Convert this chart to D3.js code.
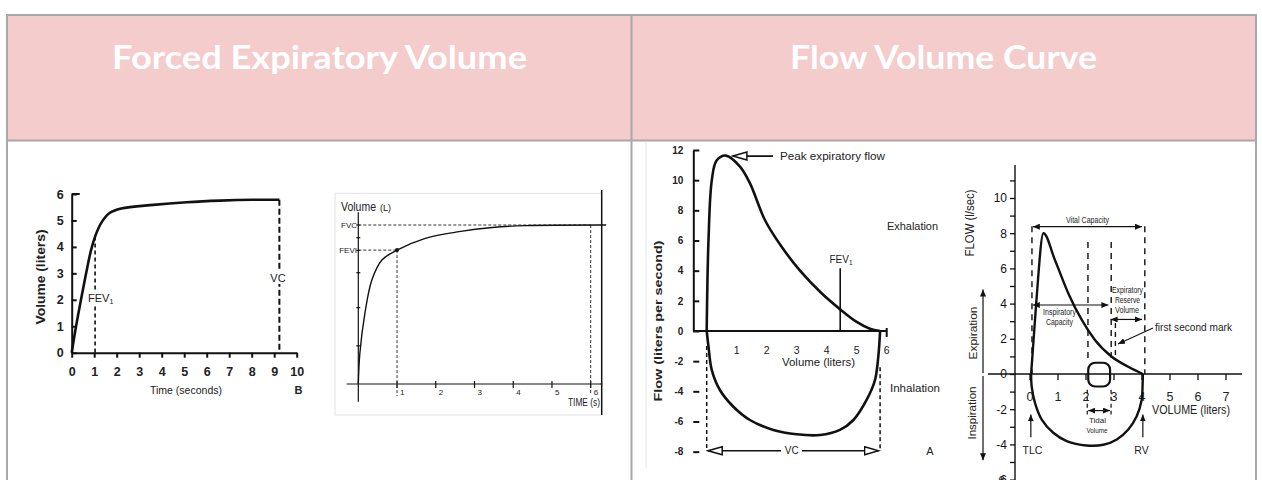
<!DOCTYPE html>
<html><head><meta charset="utf-8">
<script src="https://cdn.jsdelivr.net/npm/d3@7"></script>
<style>
html,body{margin:0;padding:0;background:#fff;}
svg{display:block;}
</style></head><body>
<svg id="c" width="1262" height="480"></svg>
<script>
// ================= DATA =================
const headers = ["Forced Expiratory Volume", "Flow Volume Curve"];

// Panel B : volume-time spirogram
const fevTime = [0, 0.19, 0.41, 0.64, 0.86, 1.04, 1.3, 1.67, 2.2, 3.63, 5.11, 6.59, 8.07, 9.23];
const fevVol  = [0, 0.98, 1.99, 3.0, 3.88, 4.39, 4.89, 5.27, 5.45, 5.59, 5.69, 5.75, 5.78, 5.78];
const fevXTicks = [0,1,2,3,4,5,6,7,8,9,10];
const fevYTicks = [0,1,2,3,4,5,6];
const fevMarks = {fev1Time: 1.04, fev1Vol: 4.39, vcTime: 9.23, vcVol: 5.78};

// Panel 2 : Volume (L) vs TIME (s)
const spTime = [0, 0.04, 0.17, 0.35, 0.61, 1, 1.73, 2.6, 3.46, 4.33, 6.4];
const spVol  = [0, 0.96, 2.22, 3.27, 3.9, 4.21, 4.58, 4.79, 4.92, 4.98, 5.0];
const spXTicks = [1,2,3,4,5,6];
const spYTicks = [1.2, 2.4, 3.5, 4.2, 4.6, 5.0];
const spMarks = {fvc: 5.0, fev1: 4.21, fev1Time: 1, endTime: 6};

// Panel A : flow-volume loop
const fvExpVol  = [0, 0.06, 0.17, 0.33, 0.64, 1.11, 1.44, 1.94, 2.44, 3.11, 3.83, 4.44, 5.0, 5.44, 5.78];
const fvExpFlow = [0, 6.03, 10.0, 11.3, 11.63, 10.9, 9.8, 7.36, 5.75, 4.0, 2.5, 1.45, 0.6, 0.15, 0];
const fvInsVol  = [0, 0.06, 0.17, 0.44, 0.89, 1.44, 2.22, 3.0, 3.78, 4.44, 4.89, 5.33, 5.61, 5.72, 5.78];
const fvInsFlow = [0, -1.04, -2.59, -3.91, -5.02, -5.9, -6.56, -6.85, -6.9, -6.56, -5.9, -4.57, -3.25, -1.7, 0];
const fvYTicks = [-8,-6,-4,-2,0,2,4,6,8,10,12];
const fvXTicks = [1,2,3,4,5,6];
const fvMarks = {peakVol: 0.64, peakFlow: 11.63, fev1Vol: 4.45, fev1Top: 4.16, vc: 5.78, vcFlow: -7.94};

// Panel 4 : flow-volume loop with lung volumes
const lvExpVol  = [0.04, 0.22, 0.48, 0.89, 1.37, 1.85, 2.32, 2.92, 3.51, 4.03];
const lvExpFlow = [0, 4.0, 8.0, 6.48, 4.58, 3.07, 1.93, 0.98, 0.41, 0];
const lvInsVol  = [0.04, 0.06, 0.18, 0.42, 0.83, 1.31, 2.02, 2.62, 3.1, 3.51, 3.81, 3.99, 4.02, 4.03];
const lvInsFlow = [0, -0.71, -1.65, -2.59, -3.34, -3.81, -4.06, -4.02, -3.72, -3.15, -2.4, -1.46, -0.71, 0];
const lvYTicks = [-6,-5,-4,-3,-2,-1,0,1,2,3,4,5,6,7,8,9,10,11];
const lvXTicks = [0,1,2,3,4,5,6,7];
const lvTidal = {v0: 2.08, v1: 2.86, fTop: 0.64, fBot: -0.71};
const lvDashV = [[0.07, 8.4, 0], [2.07, 7.5, 0.64], [2.9, 7.5, 0.64], [4.1, 8.4, 0]];
const lvMarks = {vcFlow: 8.37, icFlow: 3.92, icEnd: 2.8, ervFlow: 3.1, ervStart: 2.88, ervEnd: 4.0,
                 tidalFlow: -2.08, fsmVol: 3.05, tlc: 0.03, rv: 4.03};

// ================= DRAW =================
const svg = d3.select("#c");
const COND = "'Liberation Sans Narrow','Liberation Sans',Arial,sans-serif";
const SANS = "'Liberation Sans',Arial,sans-serif";
const zip = (a,b) => a.map((v,i)=>[v,b[i]]);
const plain = d => String(d);

function txt(g, x, y, s, o={}) {
  const t = g.append("text").attr("x", x).attr("y", y)
    .attr("font-family", o.family || COND)
    .attr("font-size", o.size || 11)
    .attr("font-weight", o.weight || "normal")
    .attr("fill", o.fill || "#222")
    .attr("text-anchor", o.anchor || "start");
  if (o.rotate) t.attr("transform", `rotate(${o.rotate},${x},${y})`);
  if (o.len) t.attr("textLength", o.len).attr("lengthAdjust", "spacingAndGlyphs");
  if (o.sub) {
    t.append("tspan").text(s);
    t.append("tspan").text(o.sub).attr("font-size", (o.size||11)*0.65).attr("dy", 2);
  } else t.text(s);
  return t;
}
function ln(g, x1, y1, x2, y2, o={}) {
  const l = g.append("line").attr("x1",x1).attr("y1",y1).attr("x2",x2).attr("y2",y2)
    .attr("stroke", o.stroke || "#111").attr("stroke-width", o.w || 1.5);
  if (o.dash) l.attr("stroke-dasharray", o.dash);
  if (o.ms) l.attr("marker-start", `url(#${o.ms})`);
  if (o.me) l.attr("marker-end", `url(#${o.me})`);
  return l;
}
function bg(g, x, y, w, h) {
  g.append("rect").attr("x",x).attr("y",y).attr("width",w).attr("height",h).attr("fill","#fff");
}

// markers
const defs = svg.append("defs");
defs.append("marker").attr("id","open").attr("markerUnits","userSpaceOnUse")
  .attr("markerWidth",17).attr("markerHeight",11).attr("refX",15).attr("refY",5)
  .attr("orient","auto-start-reverse")
  .append("path").attr("d","M1,1 L15,5 L1,9 Z").attr("fill","#fff").attr("stroke","#111").attr("stroke-width",1.5);
defs.append("marker").attr("id","fill").attr("markerUnits","userSpaceOnUse")
  .attr("markerWidth",8).attr("markerHeight",6).attr("refX",7).attr("refY",3)
  .attr("orient","auto-start-reverse")
  .append("path").attr("d","M0,0 L7,3 L0,6 Z").attr("fill","#111");

// ---- table ----
const BORDER = "#a8a8a8";
svg.append("rect").attr("x",7).attr("y",15).attr("width",1249).attr("height",125).attr("fill","#f4cccc");
[[6,15,1257,15],[6,140.5,1257,140.5],[7,14,7,480],[631.5,14,631.5,480],[1256,14,1256,480]]
  .forEach(d => ln(svg, ...d, {stroke: BORDER, w: 2}));
const headFont = "Lato,'Open Sans',sans-serif";
txt(svg, 319.5, 69, headers[0], {family: headFont, size: 31.5, weight: "bold", fill: "#fff", anchor: "middle", len: 415});
txt(svg, 943.5, 69, headers[1], {family: headFont, size: 31.5, weight: "bold", fill: "#fff", anchor: "middle", len: 307});

// ---- Panel B ----
{
  const g = svg.append("g");
  const x = d3.scaleLinear().domain([0,10]).range([71.7, 296.7]);
  const y = d3.scaleLinear().domain([0,6]).range([352.7, 194]);
  const ay = g.append("g").attr("transform","translate(71.7,0)")
    .call(d3.axisLeft(y).tickValues(fevYTicks).tickFormat(plain).tickSizeInner(-5).tickSizeOuter(0).tickPadding(8));
  const ax = g.append("g").attr("transform","translate(0,352.7)")
    .call(d3.axisBottom(x).tickValues(fevXTicks).tickFormat(plain).tickSize(5).tickSizeOuter(0).tickPadding(9));
  [ay, ax].forEach(a => {
    a.selectAll("path,line").attr("stroke","#111").attr("stroke-width",2);
    a.selectAll("text").attr("font-family",COND).attr("font-size",12.5).attr("fill","#222").attr("font-weight","bold");
  });
  ln(g, x(0), y(6), x(0)+8, y(6), {w: 2});
  g.append("path").datum(zip(fevTime, fevVol))
    .attr("d", d3.line().x(d=>x(d[0])).y(d=>y(d[1])).curve(d3.curveCatmullRom.alpha(0.5)))
    .attr("fill","none").attr("stroke","#111").attr("stroke-width",2.6);
  ln(g, x(fevMarks.fev1Time), y(fevMarks.fev1Vol), x(fevMarks.fev1Time), y(0), {dash:"4,3", w:1.6});
  ln(g, x(fevMarks.vcTime), y(fevMarks.vcVol), x(fevMarks.vcTime), y(0), {dash:"6,3", w:2});
  bg(g, 87, 291, 26, 13);
  bg(g, 270, 271, 17, 13);
  txt(g, 45, 277, "Volume (liters)", {rotate:-90, anchor:"middle", size:12, weight:"bold", len:95});
  txt(g, 186, 394, "Time (seconds)", {anchor:"middle", size:11, len:72});
  txt(g, 298.5, 394, "B", {anchor:"middle", size:11, weight:"bold"});
  txt(g, 88, 301.5, "FEV", {size:11, sub:"1"});
  txt(g, 278, 281.5, "VC", {anchor:"middle", size:11});
}

// ---- Panel 2 ----
{
  const g = svg.append("g");
  ln(g, 335, 193.3, 602, 193.3, {stroke:"#e2e2e2", w:1});
  ln(g, 335, 193.3, 335, 415, {stroke:"#e2e2e2", w:1});
  ln(g, 335, 415, 602, 415, {stroke:"#e2e2e2", w:1});
  ln(g, 601.7, 190, 601.7, 415, {stroke:"#111", w:1.5});
  const x = d3.scaleLinear().domain([0,6]).range([358.3, 590.7]);
  const y = d3.scaleLinear().domain([0,5]).range([384, 225]);
  ln(g, x(0), y(5.4), x(0), y(-0.56), {w:1.2});
  ln(g, x(-0.3), y(0), x(6.3), y(0), {w:1.2});
  spYTicks.forEach(v => ln(g, x(0)-2, y(v), x(0)+2, y(v), {w:1.2}));
  spXTicks.forEach(t => {
    ln(g, x(t), y(0)-3, x(t), y(0)+4, {w:1.2});
    txt(g, x(t)+3, 394.5, String(t), {size:8, family:SANS});
  });
  const dash = {dash:"3,2", w:1, stroke:"#333"};
  ln(g, x(0), y(spMarks.fvc), x(spMarks.endTime), y(spMarks.fvc), dash);
  ln(g, x(0), y(spMarks.fev1), x(spMarks.fev1Time), y(spMarks.fev1), dash);
  ln(g, x(spMarks.fev1Time), y(spMarks.fev1), x(spMarks.fev1Time), y(0)+12, dash);
  ln(g, x(spMarks.endTime), y(spMarks.fvc), x(spMarks.endTime), y(0)+11, dash);
  g.append("path").datum(zip(spTime, spVol))
    .attr("d", d3.line().x(d=>x(d[0])).y(d=>y(d[1])).curve(d3.curveCatmullRom.alpha(0.5)))
    .attr("fill","none").attr("stroke","#111").attr("stroke-width",1.4);
  g.append("circle").attr("cx", x(spMarks.fev1Time)).attr("cy", y(spMarks.fev1)).attr("r",2).attr("fill","#111");
  txt(g, 341, 210.7, "Volume", {size:13, len:35});
  txt(g, 380, 210.7, "(L)", {size:9, len:11});
  txt(g, 357, 228.3, "FVC", {size:8, anchor:"end"});
  txt(g, 357, 253.3, "FEVI", {size:8, anchor:"end"});
  txt(g, 568, 405.5, "TIME (s)", {size:11, len:32});
}

// ---- Panel A ----
{
  const g = svg.append("g");
  ln(g, 646, 142, 646, 468, {stroke:"#e4e4e4", w:1});
  const x = d3.scaleLinear().domain([0,6]).range([706.7, 886.7]);
  const y = d3.scaleLinear().domain([0,12]).range([331, 150]);
  const ay = g.append("g").attr("transform","translate(693.3,0)")
    .call(d3.axisLeft(y).tickValues(fvYTicks).tickFormat(plain).tickSizeInner(-6).tickSizeOuter(0).tickPadding(10));
  ay.selectAll("path,line").attr("stroke","#111").attr("stroke-width",2);
  ay.selectAll("text").attr("font-family",COND).attr("font-size",10).attr("font-weight","bold").attr("fill","#222");
  ln(g, 693.3, y(0), x(6), y(0), {w:2});
  ln(g, x(6), y(0)-3, x(6), y(0)+6, {w:2});
  fvXTicks.forEach(v => txt(g, x(v), 354, String(v), {size:10.5, anchor:"middle"}));
  const lg = d3.line().x(d=>x(d[0])).y(d=>y(d[1])).curve(d3.curveCatmullRom.alpha(0.5));
  g.append("path").datum(zip(fvExpVol, fvExpFlow)).attr("d", lg)
    .attr("fill","none").attr("stroke","#111").attr("stroke-width",2.6);
  g.append("path").datum(zip(fvInsVol, fvInsFlow)).attr("d", lg)
    .attr("fill","none").attr("stroke","#111").attr("stroke-width",2.6);
  ln(g, x(0), y(-1), x(0), y(fvMarks.vcFlow), {dash:"4,3", w:1.5});
  ln(g, x(fvMarks.vc), y(-2.4), x(fvMarks.vc), y(fvMarks.vcFlow), {dash:"4,3", w:1.5});
  ln(g, x(0.05), y(fvMarks.vcFlow), x(fvMarks.vc-0.05), y(fvMarks.vcFlow), {w:1.5, ms:"open", me:"open"});
  bg(g, 781, 445, 21, 11);
  txt(g, 791.7, 454, "VC", {size:10, anchor:"middle"});
  ln(g, x(fvMarks.fev1Vol), y(0), x(fvMarks.fev1Vol), y(fvMarks.fev1Top), {w:1.6});
  ln(g, 773, y(fvMarks.peakFlow)+0.5, x(fvMarks.peakVol)+7, y(fvMarks.peakFlow)+0.5, {w:1.6, me:"open"});
  txt(g, 780, 160, "Peak expiratory flow", {size:10, len:105});
  txt(g, 887, 230, "Exhalation", {size:10.5, len:51});
  txt(g, 890, 392.3, "Inhalation", {size:10.5, len:50});
  txt(g, 841, 263.3, "FEV", {size:10, anchor:"middle", sub:"1"});
  txt(g, 818.5, 366, "Volume (liters)", {size:10.5, anchor:"middle", len:73});
  txt(g, 930, 455, "A", {size:11, anchor:"middle"});
  txt(g, 662, 321, "Flow (liters per second)", {rotate:-90, anchor:"middle", size:11.5, weight:"bold", len:161});
}

// ---- Panel 4 ----
{
  const g = svg.append("g");
  const x = d3.scaleLinear().domain([0,7]).range([1030, 1226]);
  const y = d3.scaleLinear().domain([0,10]).range([374, 198]);
  ln(g, 1015, 165, 1015, 480, {w:1.4});
  const ay = g.append("g").attr("transform","translate(1015,0)")
    .call(d3.axisLeft(y).tickValues(lvYTicks).tickSizeInner(5).tickSizeOuter(0).tickPadding(3)
      .tickFormat(d => d % 2 === 0 ? String(d) : ""));
  ay.select(".domain").remove();
  ay.selectAll("line").attr("stroke","#111").attr("stroke-width",1.3);
  ay.selectAll("text").attr("font-family",SANS).attr("font-size",12).attr("fill","#111");
  ln(g, 988, y(0), 1242, y(0), {w:1.4});
  lvXTicks.forEach(v => {
    ln(g, x(v), y(0), x(v), y(0)+6, {w:1.3});
    txt(g, x(v), 401, String(v), {family:SANS, size:12.5, anchor:"middle"});
  });
  const lg = d3.line().x(d=>x(d[0])).y(d=>y(d[1])).curve(d3.curveCatmullRom.alpha(0.5));
  g.append("path").datum(zip(lvExpVol, lvExpFlow)).attr("d", d3.line().x(d=>x(d[0])).y(d=>y(d[1])).curve(d3.curveMonotoneX))
    .attr("fill","none").attr("stroke","#111").attr("stroke-width",2.4);
  g.append("path").datum(zip(lvInsVol, lvInsFlow)).attr("d", lg)
    .attr("fill","none").attr("stroke","#111").attr("stroke-width",2.4);
  g.append("rect").attr("x", x(lvTidal.v0)).attr("y", y(lvTidal.fTop))
    .attr("width", x(lvTidal.v1)-x(lvTidal.v0)).attr("height", y(lvTidal.fBot)-y(lvTidal.fTop))
    .attr("rx", 7).attr("fill","none").attr("stroke","#111").attr("stroke-width",2.2);
  const dash = {dash:"6,5", w:1.4};
  lvDashV.forEach(d => ln(g, x(d[0]), y(d[1]), x(d[0]), y(d[2]), dash));
  ln(g, x(lvMarks.fsmVol), y(2.9), x(lvMarks.fsmVol), y(1.0), {dash:"5,4", w:1.4});
  ln(g, x(lvTidal.v0)-1, y(-0.9), x(lvTidal.v0)-1, y(-2.3), {dash:"4,3", w:1.2});
  ln(g, x(lvTidal.v1)+1, y(-0.9), x(lvTidal.v1)+1, y(-2.3), {dash:"4,3", w:1.2});
  ln(g, x(lvTidal.v0), y(lvMarks.tidalFlow), x(lvTidal.v1), y(lvMarks.tidalFlow), {w:1.2, ms:"fill", me:"fill"});
  ln(g, x(0.1), y(lvMarks.vcFlow), x(4.0), y(lvMarks.vcFlow), {w:1.2, ms:"fill", me:"fill"});
  ln(g, x(0.1), y(lvMarks.icFlow), x(lvMarks.icEnd), y(lvMarks.icFlow), {w:1.2, ms:"fill", me:"fill"});
  ln(g, x(lvMarks.ervStart), y(lvMarks.ervFlow), x(lvMarks.ervEnd), y(lvMarks.ervFlow), {w:1.2, ms:"fill", me:"fill"});
  ln(g, 1153, 328, 1118, 344, {w:1.2, me:"fill"});
  ln(g, x(lvMarks.tlc), y(-3.6), x(lvMarks.tlc), y(-2.3), {w:1.2, me:"fill"});
  ln(g, x(lvMarks.rv), y(-3.6), x(lvMarks.rv), y(-2.3), {w:1.2, me:"fill"});
  ln(g, 983, y(0)-1, 983, y(4.8), {w:1.2, me:"fill"});
  ln(g, 983, y(0)+2, 983, y(-4.9), {w:1.2, me:"fill"});
  txt(g, 974, 223, "FLOW (l/sec)", {family:SANS, rotate:-90, anchor:"middle", size:12, len:67});
  txt(g, 977, 333, "Expiration", {family:SANS, rotate:-90, anchor:"middle", size:11, len:53});
  txt(g, 976, 413, "Inspiration", {family:SANS, rotate:-90, anchor:"middle", size:11, len:53});
  txt(g, 1152, 414, "VOLUME (liters)", {family:SANS, size:12, len:78});
  txt(g, 1032.5, 454, "TLC", {family:SANS, size:10.5, anchor:"middle"});
  txt(g, 1141.5, 454, "RV", {family:SANS, size:10.5, anchor:"middle"});
  txt(g, 1097.5, 422.7, "Tidal", {family:SANS, size:8, anchor:"middle"});
  txt(g, 1097, 433.3, "Volume", {family:SANS, size:8, anchor:"middle", len:21});
  txt(g, 1087.5, 222.7, "Vital Capacity", {family:SANS, size:8.5, anchor:"middle", len:43});
  txt(g, 1059.5, 315, "Inspiratory", {family:SANS, size:8.5, anchor:"middle", len:33});
  txt(g, 1059.5, 325, "Capacity", {family:SANS, size:8.5, anchor:"middle", len:27});
  txt(g, 1127.5, 292.7, "Expiratory", {family:SANS, size:8.5, anchor:"middle", len:31});
  txt(g, 1127.5, 302.7, "Reserve", {family:SANS, size:8.5, anchor:"middle", len:25});
  txt(g, 1127, 313.3, "Volume", {family:SANS, size:8.5, anchor:"middle", len:24});
  txt(g, 1155, 330.7, "first second mark", {family:SANS, size:11, len:77});
  txt(g, 1005, 485, "-6", {family:SANS, size:12, anchor:"end"});
}
</script>
</body></html>
